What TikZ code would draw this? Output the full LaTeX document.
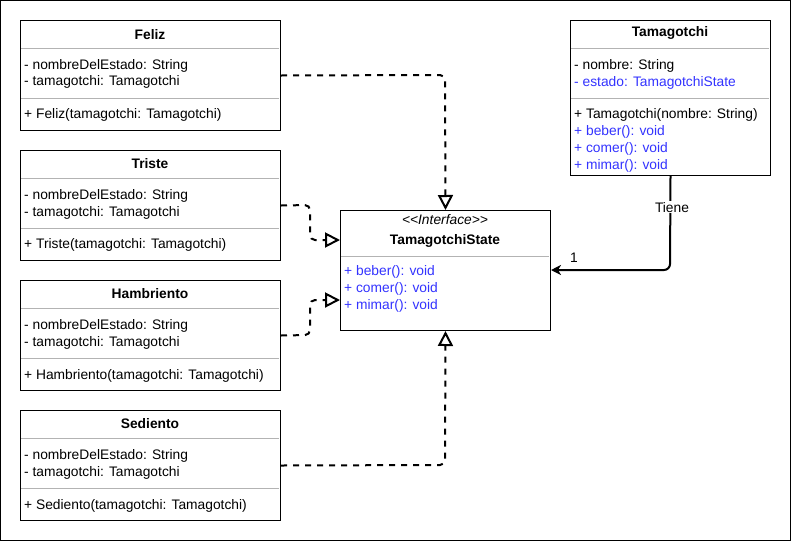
\documentclass[tikz,border=0pt]{standalone}
\usepackage{fontspec}
\setmainfont{Liberation Sans}
\usetikzlibrary{arrows.meta}
\definecolor{mblue}{HTML}{3333FF}
\definecolor{divgray}{HTML}{B3B3B3}
\begin{document}
\begin{tikzpicture}[x=1pt,y=-1pt,
  cls/.style={draw=black, line width=1pt, fill=white, inner sep=0pt, anchor=north west},
  div/.style={draw=divgray, line width=1pt},
  txt/.style={anchor=west, inner sep=0pt, yshift=-1.2pt, font=\fontsize{13.8}{16}\selectfont},
  ttl/.style={anchor=center, inner sep=0pt, yshift=-1.2pt, font=\fontsize{13.8}{16}\selectfont\bfseries},
  btxt/.style={txt, text=mblue},
  dep/.style={draw=black, line width=2pt, dash pattern=on 6pt off 6pt, rounded corners=5pt,
     -{Triangle[length=15pt, width=15pt, fill=white, line width=2pt]}},
  assoc/.style={draw=black, line width=2pt, rounded corners=6pt,
     -{Stealth[length=10pt, width=10pt, inset=3pt]}}
]
\useasboundingbox (0,0) rectangle (791,541);
\draw[line width=1pt] (0.5,0.5) rectangle (790.5,540.5);

% Feliz
\node[cls, minimum width=260pt, minimum height=110pt] (feliz) at (20,20) {};
\draw[div] (21,48) -- (279,48);
\draw[div] (21,98) -- (279,98);
\node[ttl] (felizN) at (150,33) {Feliz};
\node[txt] (felizA1) at (24,65) {- nombreDelEstado: String};
\node[txt] (felizA2) at (24,81) {- tamagotchi: Tamagotchi};
\node[txt] (felizM1) at (24,114) {+ Feliz(tamagotchi: Tamagotchi)};

% Triste
\node[cls, minimum width=260pt, minimum height=110pt] (triste) at (20,150) {};
\draw[div] (21,178) -- (279,178);
\draw[div] (21,228) -- (279,228);
\node[ttl] (tristeN) at (150,162) {Triste};
\node[txt] (tristeA1) at (24,195) {- nombreDelEstado: String};
\node[txt] (tristeA2) at (24,212) {- tamagotchi: Tamagotchi};
\node[txt] (tristeM1) at (24,244) {+ Triste(tamagotchi: Tamagotchi)};

% Hambriento
\node[cls, minimum width=260pt, minimum height=110pt] (hamb) at (20,280) {};
\draw[div] (21,308) -- (279,308);
\draw[div] (21,358) -- (279,358);
\node[ttl] (hambN) at (150,292) {Hambriento};
\node[txt] (hambA1) at (24,325) {- nombreDelEstado: String};
\node[txt] (hambA2) at (24,342) {- tamagotchi: Tamagotchi};
\node[txt] (hambM1) at (24,375) {+ Hambriento(tamagotchi: Tamagotchi)};

% Sediento
\node[cls, minimum width=260pt, minimum height=110pt] (sed) at (20,410) {};
\draw[div] (21,438) -- (279,438);
\draw[div] (21,488) -- (279,488);
\node[ttl] (sedN) at (150,422) {Sediento};
\node[txt] (sedA1) at (24,455) {- nombreDelEstado: String};
\node[txt] (sedA2) at (24,472) {- tamagotchi: Tamagotchi};
\node[txt] (sedM1) at (24,505) {+ Sediento(tamagotchi: Tamagotchi)};

% TamagotchiState
\node[cls, minimum width=210pt, minimum height=120pt] (state) at (340,210) {};
\draw[div] (341,256) -- (549,256);
\node[anchor=center, inner sep=0pt, yshift=-1.2pt, font=\fontsize{13.8}{16}\selectfont\itshape] (stateS) at (445,218) {<{}<Interface>{}>};
\node[ttl] (stateN) at (445,240) {TamagotchiState};
\node[btxt] (stateM1) at (344,271) {+ beber(): void};
\node[btxt] (stateM2) at (344,288) {+ comer(): void};
\node[btxt] (stateM3) at (344,305) {+ mimar(): void};

% Tamagotchi
\node[cls, minimum width=200pt, minimum height=155pt] (tama) at (570,20) {};
\draw[div] (571,48) -- (769,48);
\draw[div] (571,98) -- (769,98);
\node[ttl] (tamaN) at (670,32) {Tamagotchi};
\node[txt] (tamaA1) at (574,65) {- nombre: String};
\node[btxt] (tamaA2) at (574,82) {- estado: TamagotchiState};
\node[txt] (tamaM1) at (574,114) {+ Tamagotchi(nombre: String)};
\node[btxt] (tamaM2) at (574,131) {+ beber(): void};
\node[btxt] (tamaM3) at (574,148) {+ comer(): void};
\node[btxt] (tamaM4) at (574,165) {+ mimar(): void};

% connectors
\draw[dep] (feliz.east) -- (445,75) -- (state.north);
\draw[dep] (triste.east) -- (310,205) -- (310,240) -- (state.west |- 0,240);
\draw[dep] (hamb.east) -- (310,335) -- (310,300) -- (state.west |- 0,300);
\draw[dep] (sed.east) -- (445,465) -- (state.south);
\draw[assoc] (tama.south) -- (670,270) -- (state.east |- 0,270);
\node[fill=white, inner sep=1pt, yshift=-1.2pt, font=\fontsize{13.8}{16}\selectfont] (tiene) at (672,206) {Tiene};
\node[inner sep=0pt, yshift=-1.2pt, font=\fontsize{13.8}{16}\selectfont] (mult) at (574,257) {1};
\end{tikzpicture}
\end{document}
